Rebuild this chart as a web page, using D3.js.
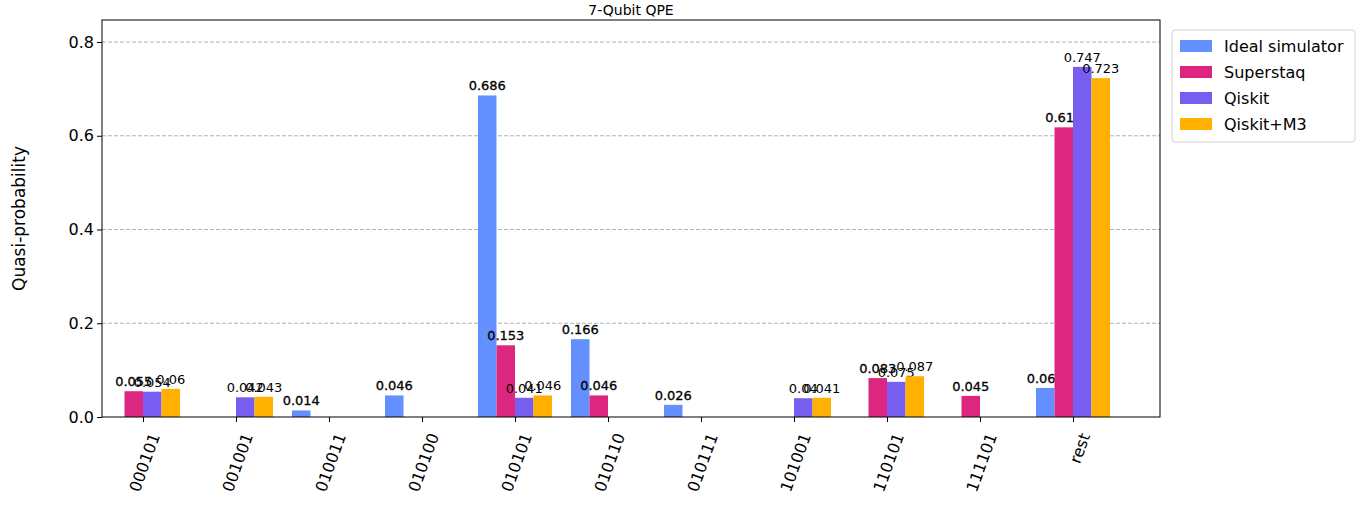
<html>
<head>
<script src="https://d3js.org/d3.v7.min.js"></script>
<style>
body { margin: 0; background: white; }
text { font-family: "DejaVu Sans", sans-serif; }
.axis text { font-size: 16px; fill: black; }
</style>
</head>
<body>
<div id="vis"></div>
<script>
const states = ["000101","001001","010011","010100","010101","010110","010111","101001","110101","111101","rest"];
const series = ["Ideal simulator","Superstaq","Qiskit","Qiskit+M3"];
const colors = ["#648fff","#dc267f","#785ef0","#ffb000"];
const ideal     = [0, 0, 0.014, 0.046, 0.686, 0.166, 0.026, 0, 0, 0, 0.062];
const superstaq = [0.055, 0, 0, 0, 0.153, 0.046, 0, 0, 0.083, 0.045, 0.618];
const qiskit    = [0.054, 0.042, 0, 0, 0.041, 0, 0, 0.04, 0.075, 0, 0.747];
const qiskitM3  = [0.06, 0.043, 0, 0, 0.046, 0, 0, 0.041, 0.087, 0, 0.723];
const values = [ideal, superstaq, qiskit, qiskitM3];
const yTicks = [0, 0.2, 0.4, 0.6, 0.8];

const W = 1365, H = 513;
const pLeft = 102, pRight = 1160, pTop = 20, pBottom = 417;
const svg = d3.select("#vis").append("svg").attr("width", W).attr("height", H);

const x = d3.scalePoint().domain(states).range([143, 1073]);
const y = d3.scaleLinear().domain([0, 0.847]).range([pBottom, pTop]);
const bw = 18.5;

// grid
svg.append("g").selectAll("line").data(yTicks.filter(d => d > 0)).enter().append("line")
  .attr("x1", pLeft).attr("x2", pRight)
  .attr("y1", d => y(d)).attr("y2", d => y(d))
  .attr("stroke", "#b0b0b0").attr("stroke-dasharray", "4,2");

// bars
series.forEach(function(s, k) {
  const data = states.map((st, i) => ({st: st, v: values[k][i]}));
  const g = svg.append("g");
  g.selectAll("rect").data(data).enter().append("rect")
    .attr("x", d => x(d.st) - 2 * bw + k * bw)
    .attr("width", bw)
    .attr("y", d => y(d.v))
    .attr("height", d => pBottom - y(d.v))
    .attr("fill", colors[k]);
  g.selectAll("text").data(data.filter(d => d.v > 0)).enter().append("text")
    .attr("x", d => x(d.st) - 2 * bw + k * bw + bw / 2)
    .attr("y", d => y(d.v) - 5)
    .attr("text-anchor", "middle")
    .attr("font-size", "13px")
    .attr("stroke", k < 2 ? "black" : "none").attr("stroke-width", 0.3)
    .text(d => d.v);
});

// axes
svg.append("g").attr("class", "axis")
  .attr("transform", "translate(" + pLeft + ",0)")
  .call(d3.axisLeft(y).tickValues(yTicks).tickFormat(d3.format(".1f")).tickSizeOuter(0).tickSize(5))
  .call(g => g.select(".domain").remove());

const xa = svg.append("g").attr("class", "axis")
  .attr("transform", "translate(0," + pBottom + ")")
  .call(d3.axisBottom(x).tickSize(5));
xa.select(".domain").remove();
xa.selectAll("text")
  .attr("font-size", "17px")
  .attr("text-anchor", "end")
  .attr("dy", "0.35em")
  .attr("transform", "translate(4,14) rotate(-70)");

svg.append("rect").attr("x", pLeft).attr("y", pTop).attr("width", pRight - pLeft).attr("height", pBottom - pTop)
  .attr("fill", "none").attr("stroke", "black");

svg.append("text").attr("x", (pLeft + pRight) / 2).attr("y", 15).attr("text-anchor", "middle")
  .attr("font-size", "14px").text("7-Qubit QPE");
svg.append("text").attr("transform", "translate(25," + ((pTop + pBottom) / 2) + ") rotate(-90)")
  .attr("text-anchor", "middle").attr("font-size", "17px").text("Quasi-probability");

// legend
const lg = svg.append("g").attr("transform", "translate(1172,30)");
lg.append("rect").attr("width", 183).attr("height", 112).attr("rx", 3)
  .attr("fill", "white").attr("stroke", "#d0d0d0");
series.forEach(function(s, k) {
  lg.append("rect").attr("x", 8).attr("y", 10 + k * 26).attr("width", 32).attr("height", 12).attr("fill", colors[k]);
  lg.append("text").attr("x", 52).attr("y", 22 + k * 26).attr("font-size", "16px").text(s);
});
</script>
</body>
</html>
